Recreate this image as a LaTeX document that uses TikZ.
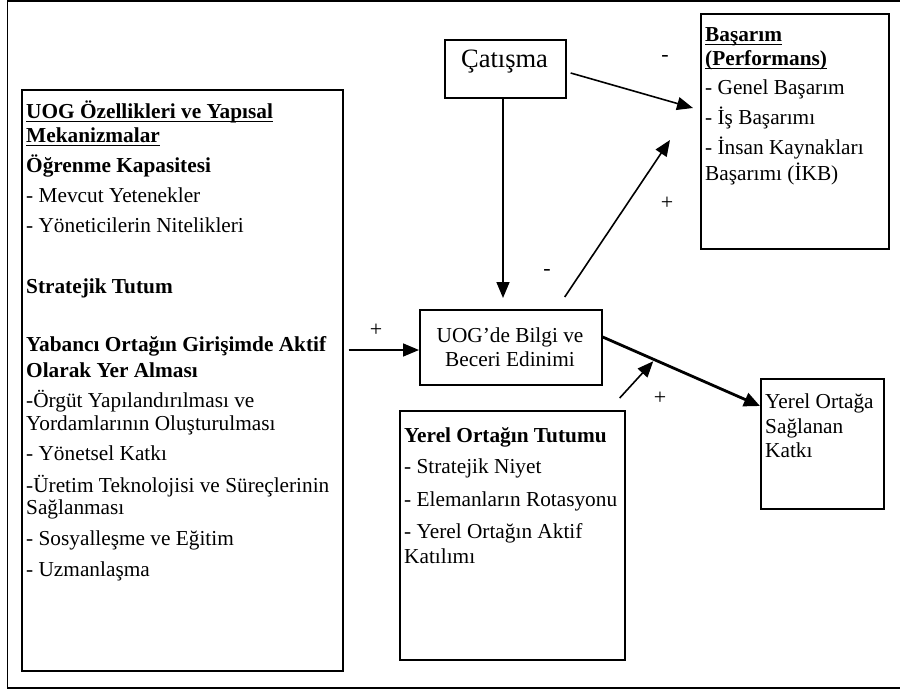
\documentclass[tikz,border=0pt]{standalone}
\usepackage{fontspec}
\setmainfont{Liberation Serif}
\usetikzlibrary{arrows.meta,calc}
\newcommand\myul[1]{\setbox0\hbox{#1}\rlap{\rule[-3pt]{\wd0}{1.3pt}}\box0}
\begin{document}
\begin{tikzpicture}[x=1pt,y=-1pt,
  box/.style={draw,line width=1.7pt,inner sep=0pt,anchor=north west},
  txt/.style={font=\fontsize{21.3}{25}\selectfont,inner sep=0pt,anchor=base west},
  ctxt/.style={font=\fontsize{21.3}{25}\selectfont,inner sep=0pt,anchor=base},
  lbl/.style={font=\fontsize{22}{25}\selectfont,inner sep=0pt},
  arr/.style={line width=1.6pt,-{Triangle[length=16pt,width=13pt]}},
  tarr/.style={line width=2.8pt,-{Triangle[length=16pt,width=14pt]}}]
\useasboundingbox (0,0) rectangle (900,690);
% outer frame
\draw[line width=1.9pt] (906,1) -- (7.5,1) -- (7.5,688) -- (906,688);
% boxes
\node[box, minimum width=321pt, minimum height=581pt] (left) at (21,89) {};
\node[box, minimum width=121pt, minimum height=58pt] (cat) at (444,39) {};
\node[box, minimum width=188pt, minimum height=235pt] (bas) at (700,13) {};
\node[box, minimum width=182pt, minimum height=75pt] (uog) at (419,309) {};
\node[box, minimum width=225pt, minimum height=249pt] (tut) at (399,410) {};
\node[box, minimum width=123pt, minimum height=130pt] (yoa) at (760,378) {};
% left box text
\node[txt] (l1) at (26,119) {\bfseries\myul{UOG Özellikleri ve Yapısal}};
\node[txt] (l2) at (26,143) {\bfseries\myul{Mekanizmalar}};
\node[txt] (l3) at (26,173) {\bfseries Öğrenme Kapasitesi};
\node[txt] (l4) at (26,203) {- Mevcut Yetenekler};
\node[txt] (l5) at (26,232) {- Yöneticilerin Nitelikleri};
\node[txt] (l6) at (26,293) {\bfseries Stratejik Tutum};
\node[txt] (l7) at (26,351) {\bfseries Yabancı Ortağın Girişimde Aktif};
\node[txt] (l8) at (26,377) {\bfseries Olarak Yer Alması};
\node[txt] (l9) at (26,407) {-Örgüt Yapılandırılması ve};
\node[txt] (l10) at (26,430) {Yordamlarının Oluşturulması};
\node[txt] (l11) at (26,460) {- Yönetsel Katkı};
\node[txt] (l12) at (26,492) {-Üretim Teknolojisi ve Süreçlerinin};
\node[txt] (l13) at (26,514) {Sağlanması};
\node[txt] (l14) at (26,545) {- Sosyalleşme ve Eğitim};
\node[txt] (l15) at (26,576) {- Uzmanlaşma};
% catisma
\node[inner sep=0pt,anchor=base,font=\fontsize{26.5}{30}\selectfont] (catt) at (504.5,68) {Çatışma};
% basarim
\node[txt] (b1) at (705,42) {\bfseries\myul{Başarım}};
\node[txt] (b2) at (705,66) {\bfseries\myul{(Performans)}};
\node[txt] (b3) at (705,95) {- Genel Başarım};
\node[txt] (b4) at (705,125) {- İş Başarımı};
\node[txt] (b5) at (705,155) {- İnsan Kaynakları};
\node[txt] (b6) at (705,180) {Başarımı (İKB)};
% uog
\node[ctxt] (u1) at (510,342) {UOG’de Bilgi ve};
\node[ctxt] (u2) at (510,366) {Beceri Edinimi};
% tutum
\node[txt] (t1) at (404,442) {\bfseries Yerel Ortağın Tutumu};
\node[txt] (t2) at (404,473) {- Stratejik Niyet};
\node[txt] (t3) at (404,506) {- Elemanların Rotasyonu};
\node[txt] (t4) at (404,538) {- Yerel Ortağın Aktif};
\node[txt] (t5) at (404,563) {Katılımı};
% yerel ortaga
\node[txt] (y1) at (765,408) {Yerel Ortağa};
\node[txt] (y2) at (765,433) {Sağlanan};
\node[txt] (y3) at (765,457) {Katkı};
% connectors
\coordinate (lsrc) at ($(left.north east)+(5,261)$);
\draw[arr] (lsrc) -- (lsrc -| uog.west);
\draw[arr] ($(cat.north east)+(4,34)$) -- ($(bas.north west)+(-7,95)$);
\draw[arr] (cat.south -| 503,0) -- ([yshift=11pt]uog.north -| 503,0);
\draw[arr] ($(uog.north east)+(-38,-12)$) -- ($(bas.north west)+(-30,127)$);
\coordinate (ts) at ($(uog.north east)+(0,28)$);
\coordinate (te) at ($(yoa.north west)+(0,28)$);
\draw[tarr] (ts) -- (te);
\coordinate (mid) at ($(ts)!0.33!(te)$);
\draw[arr,shorten >=2pt] ($(tut.north east)+(-6,-12)$) -- (mid);
% labels
\node[lbl] (m1) at (665,58) {-};
\node[lbl] (p1) at (667,203) {+};
\node[lbl] (m2) at (547,272) {-};
\node[lbl] (p2) at (376,330) {+};
\node[lbl] (p3) at (660,398) {+};
\end{tikzpicture}
\end{document}
